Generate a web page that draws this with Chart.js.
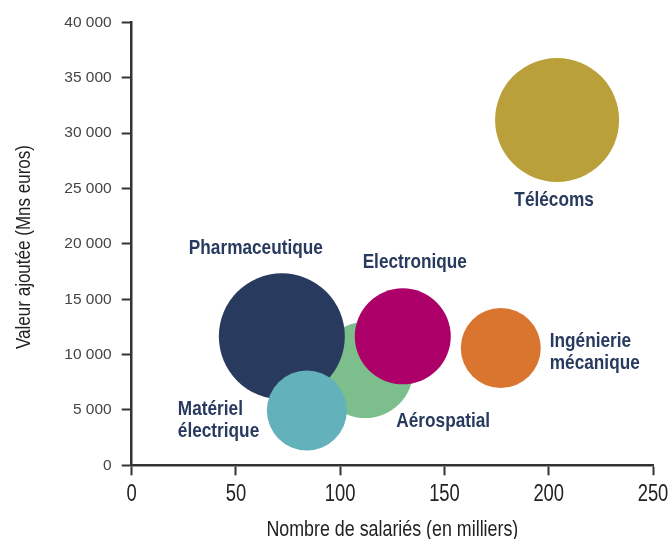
<!DOCTYPE html>
<html>
<head>
<meta charset="utf-8">
<script src="https://cdn.jsdelivr.net/npm/chart.js@4"></script>
<style>
  body { margin: 0; background: #fff; }
  canvas { display: block; }
</style>
</head>
<body>
<canvas id="chart" width="669" height="539"></canvas>
<script>
const sectors = ['Télécoms', 'Aérospatial', 'Pharmaceutique', 'Electronique', 'Ingénierie mécanique', 'Matériel électrique'];
const employees = [204, 112, 72, 130, 177, 84];            // milliers
const valueAdded = [31200, 8600, 11650, 11650, 10600, 4950]; // Mns euros
const bubbleSize = [62, 48, 63, 48, 40, 40];
const colors = ['#b9a03a', '#7dbf8c', '#283a5e', '#ac0068', '#da7530', '#63b1ba'];
const labelLines = [['Télécoms'], ['Aérospatial'], ['Pharmaceutique'], ['Electronique'], ['Ingénierie', 'mécanique'], ['Matériel', 'électrique']];
const xTicks = [0, 50, 100, 150, 200, 250];
const yTicks = [0, 5000, 10000, 15000, 20000, 25000, 30000, 35000, 40000];
const xTitle = 'Nombre de salariés (en milliers)';
const yTitle = 'Valeur ajoutée (Mns euros)';

// label placement relative to each bubble centre (px)
const labelOffsets = [
  { dx: -3, dy: 86, align: 'center' },
  { dx: 78, dy: 57, align: 'center' },
  { dx: -26, dy: -82, align: 'center' },
  { dx: 12, dy: -68, align: 'center' },
  { dx: 49, dy: -1, align: 'left' },
  { dx: -129, dy: 4, align: 'left' }
];

const sans = "'Liberation Sans', Arial, sans-serif";

const fmt = v => String(v).replace(/\B(?=(\d{3})+(?!\d))/g, ' ');

// no condensed face installed: squeeze Liberation Sans horizontally
function narrowText(ctx, text, x, y, align, squeeze, angle) {
  ctx.save();
  ctx.translate(x, y);
  if (angle) ctx.rotate(angle);
  ctx.scale(squeeze, 1);
  ctx.textAlign = align;
  ctx.fillText(text, 0, 0);
  ctx.restore();
}

const narrowLabels = {
  id: 'narrowLabels',
  afterDraw(chart) {
    const ctx = chart.ctx;
    const xs = chart.scales.x;
    const area = chart.chartArea;
    ctx.save();
    ctx.textBaseline = 'alphabetic';

    // bubble names
    ctx.font = 'bold 21px ' + sans;
    ctx.fillStyle = '#283a5e';
    chart.getDatasetMeta(0).data.forEach((pt, i) => {
      const o = labelOffsets[i];
      labelLines[i].forEach((line, j) => {
        narrowText(ctx, line, pt.x + o.dx, pt.y + o.dy + j * 22, o.align, 0.82);
      });
    });

    // x tick labels
    ctx.font = '23px ' + sans;
    ctx.fillStyle = '#222';
    xTicks.forEach(v => {
      narrowText(ctx, String(v), xs.getPixelForValue(v), area.bottom + 35.5, 'center', 0.8);
    });

    // axis titles
    ctx.font = '21.5px ' + sans;
    narrowText(ctx, xTitle, (area.left + area.right) / 2, area.bottom + 70.5, 'center', 0.83);
    ctx.font = '20.5px ' + sans;
    narrowText(ctx, yTitle, 30, 247, 'center', 0.83, -Math.PI / 2);

    ctx.restore();
  }
};

new Chart(document.getElementById('chart'), {
  type: 'bubble',
  data: {
    datasets: [{
      label: 'Secteurs',
      data: sectors.map((s, i) => ({ x: employees[i], y: valueAdded[i], r: bubbleSize[i] })),
      backgroundColor: colors,
      borderWidth: 0,
      hoverRadius: 0
    }]
  },
  options: {
    responsive: false,
    animation: false,
    events: [],
    layout: { autoPadding: false, padding: { top: 22.5, right: 16, left: 0, bottom: 0 } },
    plugins: { legend: { display: false }, tooltip: { enabled: false } },
    scales: {
      x: {
        type: 'linear',
        min: 0,
        max: 250,
        afterBuildTicks: s => { s.ticks = xTicks.map(v => ({ value: v })); },
        afterFit: s => { s.height = 73.7; },
        grid: { drawOnChartArea: false, drawTicks: true, tickLength: 10, tickColor: '#333', tickWidth: 2 },
        border: { color: '#333', width: 2.5 },
        ticks: { display: false }
      },
      y: {
        type: 'linear',
        min: 0,
        max: 40000,
        afterBuildTicks: s => { s.ticks = yTicks.map(v => ({ value: v })); },
        afterFit: s => { s.width = 131.7; },
        grid: { drawOnChartArea: false, drawTicks: true, tickLength: 10, tickColor: '#333', tickWidth: 2 },
        border: { color: '#333', width: 2.5 },
        ticks: { color: '#444', font: { family: sans, size: 15.5 }, padding: 10, callback: v => fmt(v) }
      }
    }
  },
  plugins: [narrowLabels]
});
</script>
</body>
</html>
